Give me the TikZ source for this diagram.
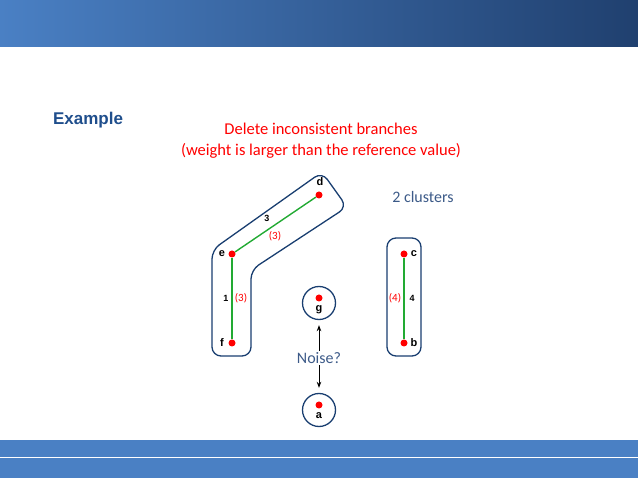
\documentclass[tikz,border=0pt]{standalone}
\usepackage{fontspec}
\setmainfont{Carlito}
\setsansfont{Liberation Sans}
\usetikzlibrary{arrows.meta}
\definecolor{bandL}{HTML}{4A80C4}
\definecolor{bandR}{HTML}{20406F}
\definecolor{ttl}{HTML}{1F4E8C}
\definecolor{txt}{HTML}{3C5A88}
\definecolor{grn}{HTML}{22AA33}
\tikzset{
 pt/.style={circle,fill=red,inner sep=0pt,minimum size=7pt},
 lbl/.style={font=\sffamily\bfseries\fontsize{11}{13}\selectfont},
 edge/.style={grn,line width=1.4pt},
 clus/.style={draw=ttl!80!black,line width=1.3pt,rounded corners=9pt},
 wt/.style={font=\sffamily\bfseries\fontsize{9}{11}\selectfont},
 rwt/.style={font=\fontsize{11}{13}\selectfont,text=red},
 arr/.style={-{Stealth[length=6pt]},line width=1pt}
}
\begin{document}
\begin{tikzpicture}[x=1pt,y=-1pt]
\useasboundingbox (0,0) rectangle (638,478);
\shade[left color=bandL,right color=bandR] (0,0) rectangle (638,47);
\fill[bandL] (0,440) rectangle (638,478);
\draw[white,line width=1pt] (0,458) -- (638,458);
\node[font=\sffamily\bfseries\fontsize{17}{20}\selectfont,text=ttl] (ex) at (88,120) {Example};
\node[text=red,align=center,font=\fontsize{16.5}{21}\selectfont] (hd) at (321,141) {Delete inconsistent branches\\(weight is larger than the reference value)};
\node[text=txt,font=\fontsize{16}{19}\selectfont] (cl) at (423,197) {2 clusters};
\draw[clus] (212,250) -- (322,172) -- (347,207) -- (251,270) -- (251,356) -- (212,356) -- cycle;
\draw[clus] (387,238) rectangle (421,356);
\node[draw=ttl!80!black,line width=1.3pt,circle,minimum size=33pt] (gc) at (319,303) {};
\node[draw=ttl!80!black,line width=1.3pt,circle,minimum size=33pt] (ac) at (319,410) {};
\node[pt] (d) at (319,195) {};
\node[pt] (e) at (232,254) {};
\node[pt] (f) at (232,343) {};
\node[pt] (g) at (319,298) {};
\node[pt] (c) at (404,254) {};
\node[pt] (b) at (404,343) {};
\node[pt] (a) at (319,405) {};
\draw[edge] (d) -- (e);
\draw[edge] (e) -- (f);
\draw[edge] (c) -- (b);
\node[lbl] at (320,182) {d};
\node[lbl] at (222,254) {e};
\node[lbl] at (222,343) {f};
\node[lbl] at (319,310) {g};
\node[lbl] at (414,254) {c};
\node[lbl] at (414,343) {b};
\node[lbl] at (319,416) {a};
\node[wt] at (267,218) {3};
\node[rwt] at (275,236) {(3)};
\node[wt] at (226,298) {1};
\node[rwt] at (241,298) {(3)};
\node[rwt] at (395,298) {(4)};
\node[wt] at (412,298) {4};
\node[text=txt,font=\fontsize{16}{19}\selectfont] (nz) at (319,358) {Noise?};
\draw[arr] ([yshift=-2pt]nz.north) -- ([yshift=-5pt]gc.south);
\draw[arr] ([yshift=2pt]nz.south) -- ([yshift=5pt]ac.north);
\end{tikzpicture}
\end{document}
